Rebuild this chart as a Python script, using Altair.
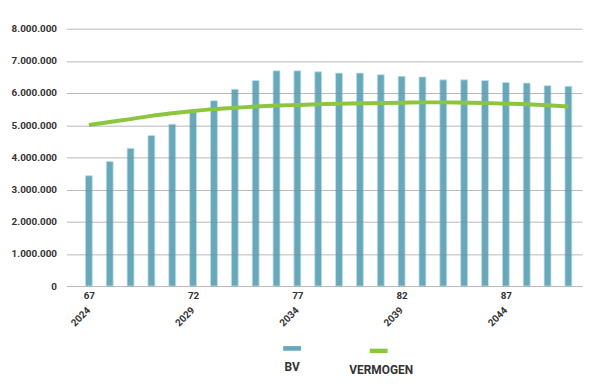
import altair as alt
import pandas as pd

years = list(range(2024, 2048))
ages = list(range(67, 91))
bv = [3.43, 3.87, 4.28, 4.68, 5.03, 5.45, 5.76, 6.12, 6.39, 6.69, 6.69, 6.66,
      6.62, 6.62, 6.57, 6.52, 6.50, 6.41, 6.41, 6.39, 6.33, 6.31, 6.23, 6.21]
vermogen = [5.01, 5.10, 5.19, 5.29, 5.37, 5.44, 5.50, 5.54, 5.58, 5.61, 5.63, 5.65,
            5.67, 5.68, 5.69, 5.70, 5.71, 5.71, 5.70, 5.69, 5.67, 5.65, 5.62, 5.58]
tick_years = [2024, 2029, 2034, 2039, 2044]
y_ticks = [0, 1000000, 2000000, 3000000, 4000000, 5000000, 6000000, 7000000, 8000000]
series_names = ["BV", "VERMOGEN"]
series_colors = ["#67a8bb", "#8cc63f"]

df = pd.DataFrame({
    "jaar": years,
    "leeftijd": ages,
    "BV": [v * 1e6 for v in bv],
    "VERMOGEN": [v * 1e6 for v in vermogen],
})
ticks_df = pd.DataFrame({"jaar": tick_years, "label": [str(y) for y in tick_years]})

FONT = "Roboto"
DARK = "#333333"

x_scale = alt.Scale(domain=[2023.16, 2047.42], nice=False, zero=False)
x_enc = alt.X(
    "jaar:Q",
    scale=x_scale,
    title=None,
    axis=alt.Axis(
        values=tick_years,
        tickCount=30,
        labelExpr="datum.value - 1957",
        grid=False,
        domain=False,
        ticks=False,
        labelPadding=5,
        labelFont=FONT,
        labelFontSize=10,
        labelFontWeight="bold",
        labelColor=DARK,
    ),
)
y_axis = alt.Axis(
    values=y_ticks,
    tickCount=20,
    labelExpr="datum.value == 0 ? '0' : format(datum.value / 1000000, 'd') + '.000.000'",
    labelOverlap=False,
    grid=True,
    gridColor="#8a8a8a",
    gridOpacity=0.6,
    gridWidth=1,
    domain=False,
    ticks=False,
    labelPadding=10,
    labelFont=FONT,
    labelFontSize=10,
    labelFontWeight="bold",
    labelColor=DARK,
    zindex=1,
)
y_scale = alt.Scale(domain=[0, 8000000], nice=False)


def make_legend(lx, **kw):
    return alt.Legend(
        title=None,
        orient="none",
        direction="horizontal",
        legendX=lx,
        legendY=314,
        padding=0,
        symbolSize=324,
        symbolOffset=17,
        labelAlign="center",
        labelBaseline="top",
        labelOffset=0,
        labelExpr="['', datum.label]",
        labelFont=FONT,
        labelFontSize=12,
        labelFontWeight="bold",
        labelColor=DARK,
        **kw,
    )


base = alt.Chart(df)

bars = base.transform_calculate(serie="'BV'").mark_bar(
    size=7, stroke="#c4e2eb", strokeWidth=0.8
).encode(
    x=x_enc,
    y=alt.Y("BV:Q", scale=y_scale, axis=y_axis, title=None),
    fill=alt.Fill(
        "serie:N",
        scale=alt.Scale(domain=[series_names[0]], range=[series_colors[0]]),
        legend=make_legend(193, symbolType="M0,-0.26H2V0.26H0Z", symbolStrokeWidth=0),
    ),
)

line = base.transform_calculate(serie="'VERMOGEN'").mark_line(
    strokeWidth=4, interpolate="monotone"
).encode(
    x=alt.X("jaar:Q", scale=x_scale),
    y=alt.Y("VERMOGEN:Q", scale=y_scale),
    stroke=alt.Stroke(
        "serie:N",
        scale=alt.Scale(domain=[series_names[1]], range=[series_colors[1]]),
        legend=make_legend(278, symbolType="M0,0H2", symbolStrokeWidth=4.5),
    ),
)

year_labels = alt.Chart(ticks_df).mark_text(
    angle=315, align="right", baseline="middle",
    font=FONT, fontSize=10, fontWeight="bold", color=DARK,
).encode(
    x=alt.X("jaar:Q", scale=x_scale),
    y=alt.value(283),
    text="label:N",
)

chart = alt.layer(bars, line, year_labels).properties(
    width=521,
    height=260,
    autosize=alt.AutoSizeParams(type="none"),
    padding={"left": 59, "top": 19, "right": 10, "bottom": 92},
).resolve_scale(fill="independent", stroke="independent").configure_view(stroke=None)

chart.save("out.html", embed_options={"renderer": "svg", "actions": False})
